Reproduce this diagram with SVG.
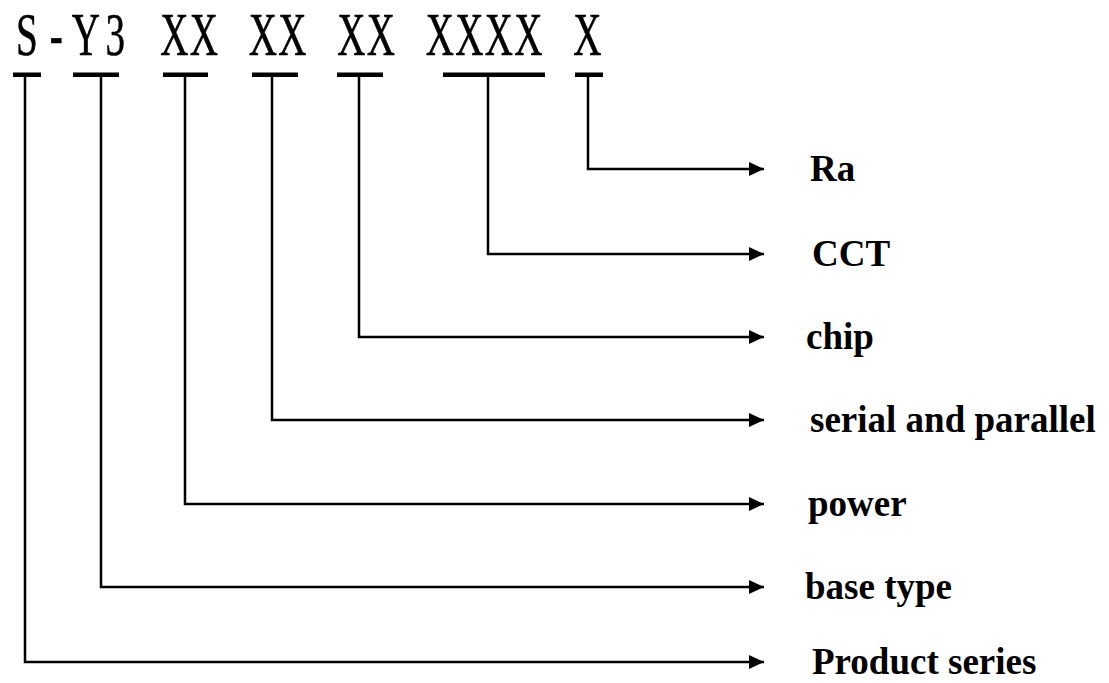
<svg xmlns="http://www.w3.org/2000/svg" width="1109" height="683" viewBox="0 0 1109 683">
<style>
.code{font-family:"Liberation Serif","Times New Roman",serif;font-size:61px;fill:#000;stroke:#000;stroke-width:0.6}
.lbl{font-family:"Liberation Serif","Times New Roman",serif;font-size:37px;font-weight:bold;fill:#000}
.bar{fill:#000}
.con{fill:none;stroke:#000;stroke-width:2.5}
</style>
<defs>
<marker id="ah" markerWidth="16" markerHeight="14" refX="15" refY="7" orient="auto" markerUnits="userSpaceOnUse">
<path d="M0,0 L15,7 L0,14 Z" fill="#000"/>
</marker>
</defs>
<rect width="1109" height="683" fill="#fff"/>
<g id="code">
<text class="code" transform="scale(0.64,1)" text-anchor="middle" y="55" x="41.80 87.89 133.98 180.08 226.17 272.27 318.36 364.45 410.55 456.64 502.73 548.83 594.92 641.02 687.11 733.20 779.30 825.39 871.48 917.58">S-Y3 XX XX XX XXXX X</text>
</g>
<g id="bars">
<rect class="bar" x="13" y="72.5" width="28" height="4.5"/>
<rect class="bar" x="73" y="72.5" width="46" height="4.5"/>
<rect class="bar" x="163" y="72.5" width="45" height="4.5"/>
<rect class="bar" x="252" y="72.5" width="46" height="4.5"/>
<rect class="bar" x="337" y="72.5" width="46" height="4.5"/>
<rect class="bar" x="443" y="72.5" width="102" height="4.5"/>
<rect class="bar" x="575" y="72.5" width="28" height="4.5"/>
</g>
<g id="connectors">
<path class="con" d="M588,77 V169 H764" marker-end="url(#ah)"/>
<path class="con" d="M488,77 V254 H764" marker-end="url(#ah)"/>
<path class="con" d="M359,77 V337 H764" marker-end="url(#ah)"/>
<path class="con" d="M272,77 V420 H764" marker-end="url(#ah)"/>
<path class="con" d="M185,77 V504 H764" marker-end="url(#ah)"/>
<path class="con" d="M101,77 V587 H764" marker-end="url(#ah)"/>
<path class="con" d="M25,77 V662 H764" marker-end="url(#ah)"/>
</g>
<g id="n-ra"><text class="lbl" x="810" y="181">Ra</text></g>
<g id="n-cct"><text class="lbl" x="812" y="266">CCT</text></g>
<g id="n-chip"><text class="lbl" x="806" y="349">chip</text></g>
<g id="n-serial"><text class="lbl" x="810" y="432">serial and parallel</text></g>
<g id="n-power"><text class="lbl" x="808" y="516">power</text></g>
<g id="n-base"><text class="lbl" x="805" y="599">base type</text></g>
<g id="n-product"><text class="lbl" x="812" y="674">Product series</text></g>
</svg>
